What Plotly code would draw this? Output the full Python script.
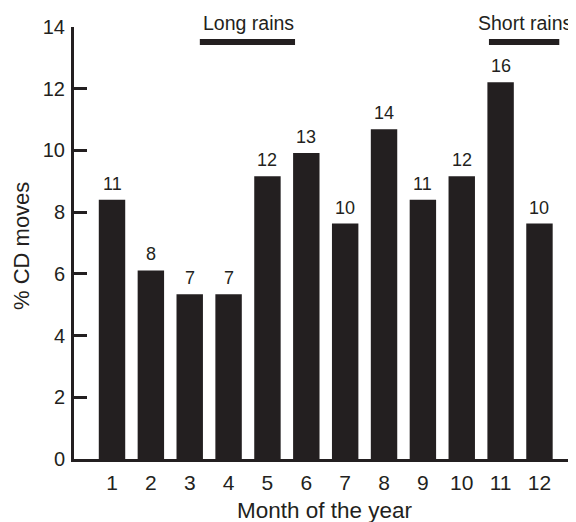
import plotly.graph_objects as go

months = [1, 2, 3, 4, 5, 6, 7, 8, 9, 10, 11, 12]
pct_moves = [8.40, 6.11, 5.34, 5.34, 9.16, 9.92, 7.63, 10.69, 8.40, 9.16, 12.21, 7.63]
counts = [11, 8, 7, 7, 12, 13, 10, 14, 11, 12, 16, 10]
y_ticks = [0, 2, 4, 6, 8, 10, 12, 14]
seasons = ["Long rains", "Short rains"]
season_start = [3.26, 10.70]
season_end = [5.71, 12.51]
season_level = 13.51
x_title = "Month of the year"
y_title = "% CD moves"

INK = "#231f20"
FONT = "Liberation Sans, Arial, Helvetica, sans-serif"

fig = go.Figure()
fig.add_trace(go.Bar(
    x=months, y=pct_moves, width=0.68,
    marker=dict(color=INK, line=dict(width=0)),
    hoverinfo="skip",
))

for m, v, c in zip(months, pct_moves, counts):
    fig.add_annotation(x=m, y=v, text=str(c), showarrow=False,
                       yanchor="bottom", yshift=4,
                       font=dict(size=18, color=INK, family=FONT))

for name, s, e in zip(seasons, season_start, season_end):
    fig.add_shape(type="line", x0=s, x1=e, y0=season_level, y1=season_level,
                  xref="x", yref="y", line=dict(color=INK, width=6))
    fig.add_annotation(x=(s + e) / 2, y=season_level, text=name, showarrow=False,
                       yanchor="bottom", yshift=6, xshift=1,
                       font=dict(size=19.5, color=INK, family=FONT))

# axis titles
fig.add_annotation(xref="paper", yref="paper", x=0.5, y=0, text=x_title,
                   showarrow=False, xanchor="center", yanchor="middle",
                   yshift=-51, font=dict(size=22.5, color=INK, family=FONT))
fig.add_annotation(xref="paper", yref="paper", x=0, y=0.5, text=y_title,
                   showarrow=False, xanchor="center", yanchor="middle",
                   textangle=-90, xshift=-53, yshift=-3,
                   font=dict(size=22, color=INK, family=FONT))

# page body adds an 8px offset, so the figure is sized to fit the window
fig.update_layout(
    width=568, height=514,
    margin=dict(l=66, r=0, t=19, b=63, autoexpand=False),
    plot_bgcolor="white", paper_bgcolor="white",
    showlegend=False,
    font=dict(family=FONT, color=INK),
)
fig.update_xaxes(
    range=[0.022, 12.94], tickvals=months, ticktext=[str(m) for m in months],
    showgrid=False, zeroline=False, showline=True, linecolor=INK, linewidth=3,
    ticks="", tickfont=dict(size=21, color=INK), automargin=False,
    ticklabelstandoff=3,
    fixedrange=True,
)
fig.update_yaxes(
    range=[0, 14], tickvals=y_ticks, ticktext=[str(t) for t in y_ticks],
    showgrid=False, zeroline=False, showline=True, linecolor=INK, linewidth=3,
    ticks="inside", ticklen=13, tickwidth=3, tickcolor=INK,
    tickfont=dict(size=20, color=INK), automargin=False,
    ticklabelstandoff=2,
    fixedrange=True,
)

fig.write_html("out.html")
